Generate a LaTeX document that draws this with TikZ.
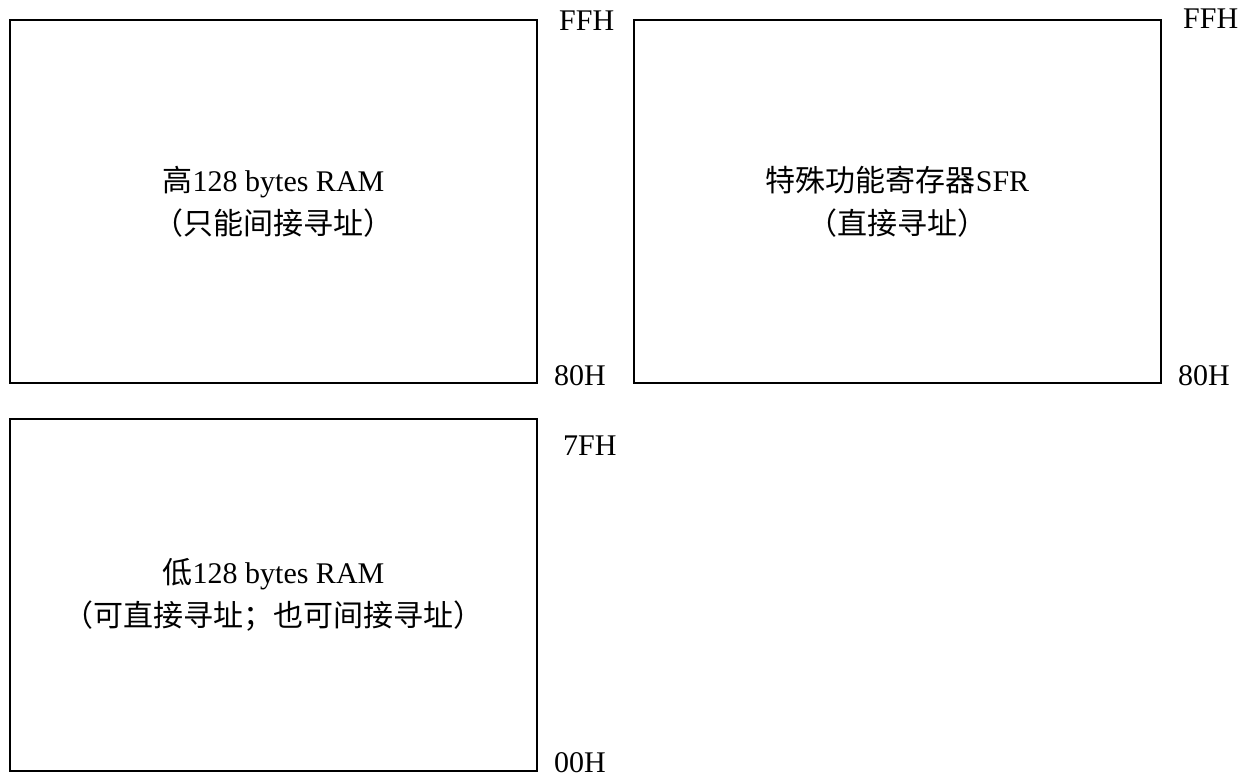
\documentclass[tikz,border=0pt]{standalone}
\usepackage{fontspec}
\setmainfont{Liberation Serif}
\newfontfamily\cjk{Noto Sans CJK SC}

\begin{document}
\begin{tikzpicture}[x=1pt,y=-1pt,
    mem/.style={shape=rectangle,draw=black,line width=1.2pt,inner sep=0pt,
        minimum width=527pt,align=center,font=\fontsize{30}{43}\selectfont},
    addr/.style={anchor=base west,inner sep=0pt,font=\fontsize{30}{36}\selectfont}]
    \useasboundingbox (0,0) rectangle (1247,778);
    \node[mem,minimum height=363pt] (H) at (273.5,201.5) {{\cjk 高}128 bytes RAM\\{\cjk （只能间接寻址）}};
    \node[mem,minimum height=363pt] (S) at (897.5,201.5) {{\cjk 特殊功能寄存器}SFR\\{\cjk （直接寻址）}};
    \node[mem,minimum height=352pt] (L) at (273.5,595) {{\cjk 低}128 bytes RAM\\{\cjk （可直接寻址；也可间接寻址）}};
    \node[addr] (HT) at (559,31) {FFH};
    \node[addr] (HB) at (554,385) {80H};
    \node[addr] (ST) at (1183,29) {FFH};
    \node[addr] (SB) at (1178,385) {80H};
    \node[addr] (LT) at (563,455) {7FH};
    \node[addr] (LB) at (554,772) {00H};
\end{tikzpicture}
\end{document}
